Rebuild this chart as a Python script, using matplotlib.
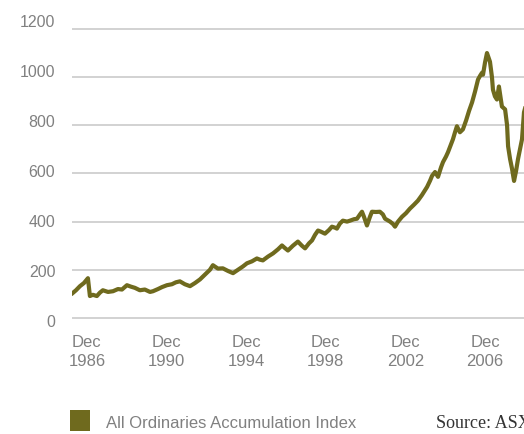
import matplotlib
matplotlib.use("Agg")
from matplotlib import pyplot as plt
from matplotlib.patches import Rectangle
from matplotlib.transforms import ScaledTranslation

# All Ordinaries Accumulation Index, monthly-ish readings (decimal year, index level)
years = [1986.20, 1986.37, 1986.57, 1986.77, 1986.97, 1987.07, 1987.22, 1987.42, 1987.57, 1987.72,
         1987.98, 1988.23, 1988.48, 1988.68, 1988.93, 1989.13, 1989.33, 1989.58, 1989.83, 1990.09,
         1990.24, 1990.49, 1990.69, 1990.94, 1991.19, 1991.39, 1991.59, 1991.84, 1992.10, 1992.35,
         1992.60, 1992.85, 1993.10, 1993.25, 1993.50, 1993.75, 1994.01, 1994.26, 1994.51, 1994.76,
         1994.96, 1995.21, 1995.46, 1995.61, 1995.76, 1996.02, 1996.27, 1996.52, 1996.72, 1996.87,
         1997.02, 1997.27, 1997.52, 1997.72, 1997.88, 1998.08, 1998.23, 1998.38, 1998.53, 1998.68,
         1998.88, 1999.08, 1999.23, 1999.38, 1999.48, 1999.63, 1999.78, 1999.99, 2000.14, 2000.34,
         2000.49, 2000.64, 2000.74, 2000.84, 2000.99, 2001.14, 2001.24, 2001.44, 2001.64, 2001.79,
         2001.90, 2002.05, 2002.15, 2002.30, 2002.40, 2002.55, 2002.75, 2002.95, 2003.15, 2003.35,
         2003.55, 2003.75, 2004.01, 2004.16, 2004.26, 2004.41, 2004.56, 2004.71, 2004.81, 2004.96,
         2005.06, 2005.21, 2005.31, 2005.41, 2005.51, 2005.66, 2005.81, 2005.97, 2006.12, 2006.27,
         2006.42, 2006.57, 2006.67, 2006.77, 2006.82, 2006.92, 2007.02, 2007.17, 2007.27, 2007.32,
         2007.42, 2007.52, 2007.62, 2007.77, 2007.93, 2008.03, 2008.08, 2008.18, 2008.28, 2008.38,
         2008.48, 2008.58, 2008.68, 2008.78, 2008.88, 2009.03]
index = [103, 115, 132, 145, 165, 91, 96, 91, 105, 115,
         108, 111, 120, 118, 136, 130, 125, 115, 118, 108,
         111, 120, 128, 136, 140, 148, 152, 140, 132, 145,
         160, 180, 200, 219, 205, 206, 195, 186, 200, 214,
         227, 235, 247, 242, 239, 255, 268, 285, 301, 290,
         280, 300, 317, 300, 289, 310, 322, 345, 363, 358,
         350, 365, 379, 375, 371, 392, 404, 400, 404, 410,
         412, 430, 441, 420, 384, 420, 441, 440, 441, 430,
         412, 405, 400, 390, 379, 400, 420, 435, 454, 470,
         487, 510, 544, 570, 590, 606, 586, 625, 647, 670,
         688, 720, 742, 770, 796, 771, 783, 820, 860, 895,
         940, 990, 1005, 1018, 1010, 1060, 1100, 1064, 1000, 948,
         920, 907, 961, 878, 866, 800, 713, 660, 619, 569,
         610, 660, 700, 742, 854, 900]

tick_years = [1986, 1990, 1994, 1998, 2002, 2006]
tick_labels = ["Dec\n%d" % y for y in tick_years]
y_ticks = [0, 200, 400, 600, 800, 1000, 1200]

olive = "#6f6a1e"
grey_text = "#808080"
label_font = ["Liberation Sans", "DejaVu Sans"]

fig = plt.figure(figsize=(5.24, 4.34), dpi=100)
ax = fig.add_axes([0.1374, 0.2341, 0.8626, 0.7214])

for v in y_ticks:
    ax.axhline(v, color="#d2d2d2", linewidth=1.4, zorder=1)

ax.plot(years, index, color=olive, linewidth=3.0, solid_joinstyle="round", zorder=3)

ax.set_xlim(1986.17, 2008.88)
ax.set_ylim(-60, 1240)

ax.set_xticks([y + 0.92 for y in tick_years])
ax.set_xticklabels(tick_labels, linespacing=1.3)
ax.set_yticks(y_ticks)
ax.set_yticklabels([str(v) for v in y_ticks])
ax.tick_params(axis="x", length=0, pad=2, labelsize=12, labelcolor=grey_text)
ax.tick_params(axis="y", length=0, pad=12, labelsize=11.5, labelcolor=grey_text)
for lbl in ax.get_xticklabels() + ax.get_yticklabels():
    lbl.set_fontfamily(label_font)

# y labels sit on a slightly wider spacing than the gridlines
for k, lbl in enumerate(ax.get_yticklabels()):
    shift = (3.5 - 1.9 * k) / 100
    lbl.set_transform(lbl.get_transform() + ScaledTranslation(0, -shift, fig.dpi_scale_trans))

for s in ax.spines.values():
    s.set_visible(False)

# legend swatch and caption below the plot
fig.patches.append(Rectangle((70 / 524, 1 - 431 / 434), 20 / 524, 21 / 434,
                             transform=fig.transFigure, facecolor=olive, edgecolor="none"))
fig.text(106 / 524, 1 - 424 / 434, "All Ordinaries Accumulation Index", fontsize=12,
         color=grey_text, va="center", family=label_font)
fig.text(436 / 524, 1 - 423 / 434, "Source: ASX", fontsize=13, color="#333333",
         va="center", family="Liberation Serif")

plt.savefig("out.png", dpi=100)
